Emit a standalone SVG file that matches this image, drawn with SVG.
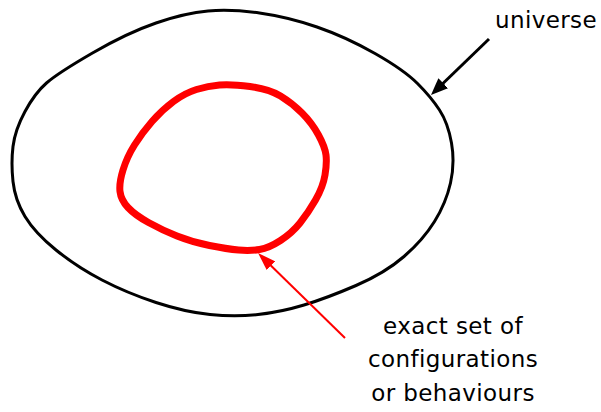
<svg xmlns="http://www.w3.org/2000/svg" width="601" height="412" viewBox="0 0 601 412">
<defs>
<style>
.lbl{font-family:"DejaVu Sans","Liberation Sans",sans-serif;font-size:23px;letter-spacing:0.4px;fill:#000}
</style>
<marker id="ahB" markerUnits="userSpaceOnUse" markerWidth="17" markerHeight="14" refX="12" refY="7" orient="auto"><path d="M0,0 L17,7 L0,14 z" fill="#000"/></marker>
<marker id="ahR" markerUnits="userSpaceOnUse" markerWidth="18" markerHeight="12" refX="13" refY="6" orient="auto"><path d="M0,0 L18,6 L0,12 z" fill="#f00"/></marker>
</defs>
<rect width="601" height="412" fill="#fff"/>
<g id="universe">
<path d="M208,11 Q231,9 259.5,13 Q288,17 317,27 Q346,37 375,53.5 Q404,70 417.5,83.5 Q431,97 439.5,110 Q448,123 451.5,143 Q455,163 450.5,183 Q446,203 434.5,221.5 Q423,240 404,256.5 Q385,273 356,285.5 Q327,298 304,305 Q281,312 258,314.5 Q235,317 210,314.5 Q185,312 156,302.5 Q127,293 102,280 Q77,267 56,250 Q35,233 25,216.5 Q15,200 13,181.5 Q11,163 13,146.5 Q15,130 25,111.5 Q35,93 46.5,83 Q58,73 92.5,53 Q127,33 156,23 Q185,13 208,11 Z" fill="none" stroke="#000" stroke-width="3"/>
<text class="lbl" x="546" y="28" text-anchor="middle">universe</text>
</g>
<g id="exact-set">
<path d="M219.5,85 Q231,84 250,86.5 Q269,89 280.5,96 Q292,103 302,113 Q312,123 318.5,135 Q325,147 326,155 Q327,163 325,175 Q323,187 315.5,200 Q308,213 300,223 Q292,233 280.5,240.5 Q269,248 259.5,249.5 Q250,251 238.5,250 Q227,249 209.5,245.5 Q192,242 177,236 Q162,230 148.5,222.5 Q135,215 128,207.5 Q121,200 120,191.5 Q119,183 123,170 Q127,157 134.5,145 Q142,133 152,121.5 Q162,110 173.5,101.5 Q185,93 196.5,89.5 Q208,86 219.5,85 Z" fill="none" stroke="#f00" stroke-width="7" stroke-linejoin="round"/>
<text class="lbl" x="453" y="334" text-anchor="middle">exact set of</text>
<text class="lbl" x="453" y="367" text-anchor="middle">configurations</text>
<text class="lbl" x="453" y="401" text-anchor="middle">or behaviours</text>
</g>
<g id="connectors">
<line x1="489" y1="39" x2="434.6" y2="91.5" stroke="#000" stroke-width="3" marker-end="url(#ahB)"/>
<line x1="345" y1="338" x2="261.6" y2="256.5" stroke="#f00" stroke-width="2" marker-end="url(#ahR)"/>
</g>
</svg>
